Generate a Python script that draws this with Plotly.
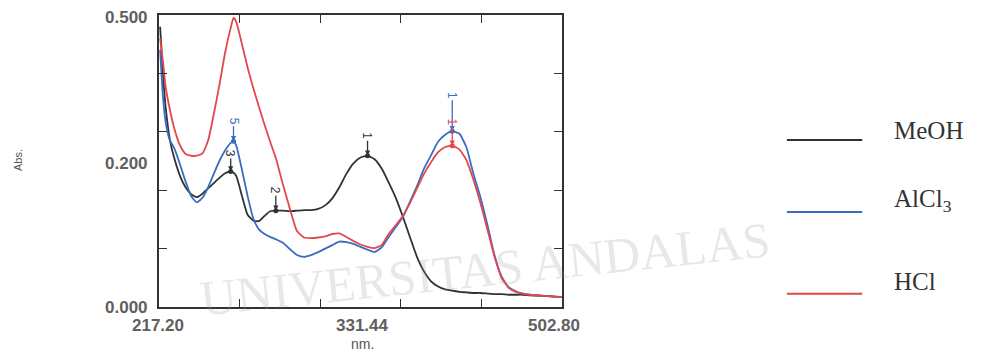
import plotly.graph_objects as go

# ---- data ----
wavelength = [218, 220, 222, 225, 228, 232, 236, 240, 244, 248, 252, 256, 260, 264, 268, 270, 272,
              276, 280, 284, 288, 292, 296, 300, 305, 310, 315, 320, 325, 330, 335, 340, 345, 350,
              355, 360, 365, 370, 375, 380, 385, 390, 395, 400, 405, 410, 415, 420, 425, 430, 435,
              440, 445, 450, 455, 460, 465, 470, 475, 480, 490, 502.8]

meoh = [0.48, 0.40, 0.34, 0.285, 0.255, 0.225, 0.205, 0.193, 0.188, 0.194, 0.203, 0.212, 0.221, 0.229,
        0.232, 0.230, 0.224, 0.190, 0.158, 0.148, 0.147, 0.156, 0.164, 0.165, 0.165, 0.164, 0.165,
        0.166, 0.166, 0.168, 0.174, 0.186, 0.205, 0.228, 0.246, 0.256, 0.259, 0.253, 0.237, 0.213,
        0.187, 0.155, 0.120, 0.086, 0.061, 0.044, 0.035, 0.030, 0.028, 0.026, 0.025, 0.024, 0.024,
        0.023, 0.022, 0.022, 0.021, 0.021, 0.021, 0.020, 0.019, 0.017]

alcl3 = [0.44, 0.36, 0.315, 0.285, 0.272, 0.245, 0.215, 0.190, 0.179, 0.187, 0.205, 0.228, 0.250, 0.268,
         0.281, 0.284, 0.276, 0.235, 0.190, 0.152, 0.133, 0.125, 0.120, 0.116, 0.110, 0.099, 0.089,
         0.086, 0.089, 0.094, 0.100, 0.106, 0.112, 0.111, 0.108, 0.103, 0.098, 0.094, 0.102, 0.120,
         0.137, 0.154, 0.180, 0.207, 0.237, 0.260, 0.283, 0.295, 0.301, 0.297, 0.274, 0.228, 0.188,
         0.140, 0.088, 0.052, 0.034, 0.027, 0.023, 0.021, 0.019, 0.017]

hcl = [0.46, 0.42, 0.375, 0.337, 0.306, 0.277, 0.262, 0.259, 0.259, 0.263, 0.285, 0.330, 0.380, 0.435,
       0.478, 0.495, 0.488, 0.450, 0.410, 0.375, 0.343, 0.312, 0.283, 0.255, 0.210, 0.168, 0.130,
       0.119, 0.118, 0.119, 0.121, 0.125, 0.126, 0.120, 0.113, 0.107, 0.103, 0.101, 0.106, 0.125,
       0.140, 0.156, 0.178, 0.203, 0.228, 0.248, 0.265, 0.274, 0.276, 0.270, 0.252, 0.218, 0.178,
       0.132, 0.086, 0.050, 0.033, 0.026, 0.023, 0.021, 0.019, 0.017]

series_names = ["MeOH", "AlCl<sub>3</sub>", "HCl"]
series_colors = ["#2e3436", "#3b6cc0", "#e2474b"]

x_tick_labels = ["217.20", "331.44", "502.80"]
y_tick_labels = ["0.500", "0.200", "0.000"]

# peak picks: (series index, wavelength, label, arrow length px)
peaks = [(0, 365, "1", -20), (1, 425, "1", -36), (2, 423, "1", -24), (0, 268, "3", -18),
         (1, 270, "5", -20), (0, 300, "2", -20)]

all_series = [meoh, alcl3, hcl]

fig = go.Figure()

# watermark (drawn first, faint)
fig.add_annotation(xref="paper", yref="paper", x=0.81, y=0.13, text="UNIVERSITAS ANDALAS",
                   showarrow=False, textangle=-6, xanchor="center", yanchor="middle",
                   font=dict(family="Liberation Serif", size=50, color="rgba(150,150,150,0.22)"))

for vals, name, col in zip(all_series, series_names, series_colors):
    fig.add_trace(go.Scatter(x=wavelength, y=vals, mode="lines", name=name,
                             line=dict(color=col, width=1.8, shape="spline", smoothing=0.5),
                             showlegend=False, hoverinfo="skip"))

# peak dots + arrows
for si, wl, lab, ay in peaks:
    wl_key = wl if wl in wavelength else min(wavelength, key=lambda w: abs(w - wl))
    yv = all_series[si][wavelength.index(wl_key)]
    col = series_colors[si]
    fig.add_trace(go.Scatter(x=[wl_key], y=[yv], mode="markers", marker=dict(color=col, size=5),
                             showlegend=False, hoverinfo="skip"))
    fig.add_annotation(x=wl_key, y=yv, ax=0, ay=ay, showarrow=True, arrowhead=2, arrowsize=0.8,
                       arrowwidth=1.3, arrowcolor=col, text=lab, textangle=90,
                       font=dict(family="Liberation Sans", size=12, color=col))

x_range = [217.2, 502.8]
y_range = [0.0, 0.5]
span = x_range[1] - x_range[0]

fig.update_xaxes(range=x_range, showline=True, linecolor="#333", linewidth=1.5, mirror="ticks",
                 ticks="inside", ticklen=8, tickcolor="#333",
                 tickvals=[x_range[0] + span * f for f in (0.2, 0.4, 0.6, 0.8)],
                 showticklabels=False, showgrid=False, zeroline=False)
fig.update_yaxes(range=y_range, showline=True, linecolor="#333", linewidth=1.5, mirror="ticks",
                 ticks="inside", ticklen=8, tickcolor="#333",
                 tickvals=[0.1, 0.2, 0.3, 0.4],
                 showticklabels=False, showgrid=False, zeroline=False)

tick_font = dict(family="Liberation Sans", size=17, color="#606060")
# axis labels as printed on the instrument chart
for txt, yp in zip(y_tick_labels, [0.99, 0.493, -0.003]):
    fig.add_annotation(xref="paper", yref="paper", x=-0.022, y=yp, text="<b>" + txt + "</b>",
                       showarrow=False, xanchor="right", yanchor="middle", font=tick_font)
for txt, xp in zip(x_tick_labels, [-0.003, 0.504, 0.98]):
    fig.add_annotation(xref="paper", yref="paper", x=xp, y=-0.064, text="<b>" + txt + "</b>",
                       showarrow=False, xanchor="center", yanchor="middle", font=tick_font)
fig.add_annotation(xref="paper", yref="paper", x=0.504, y=-0.128, text="nm.", showarrow=False,
                   xanchor="center", yanchor="middle",
                   font=dict(family="Liberation Sans", size=14, color="#555"))
fig.add_annotation(xref="paper", yref="paper", x=-0.35, y=0.503, text="Abs.", showarrow=False,
                   xanchor="center", yanchor="middle", textangle=-90,
                   font=dict(family="Liberation Sans", size=11, color="#555"))

# custom legend
leg_y_line = [0.572, 0.325, 0.045]
leg_y_text = [0.606, 0.366, 0.086]
for name, col, yl, yt in zip(series_names, series_colors, leg_y_line, leg_y_text):
    fig.add_shape(type="line", xref="paper", yref="paper", x0=1.558, x1=1.745, y0=yl, y1=yl,
                  line=dict(color=col, width=2))
    fig.add_annotation(xref="paper", yref="paper", x=1.82, y=yt, text=name, showarrow=False,
                       xanchor="left", yanchor="middle",
                       font=dict(family="Liberation Serif", size=25, color="#333"))

fig.update_layout(width=985, height=356, margin=dict(l=159, r=423, t=15, b=49),
                  paper_bgcolor="white", plot_bgcolor="white")

fig.write_html("out.html")
